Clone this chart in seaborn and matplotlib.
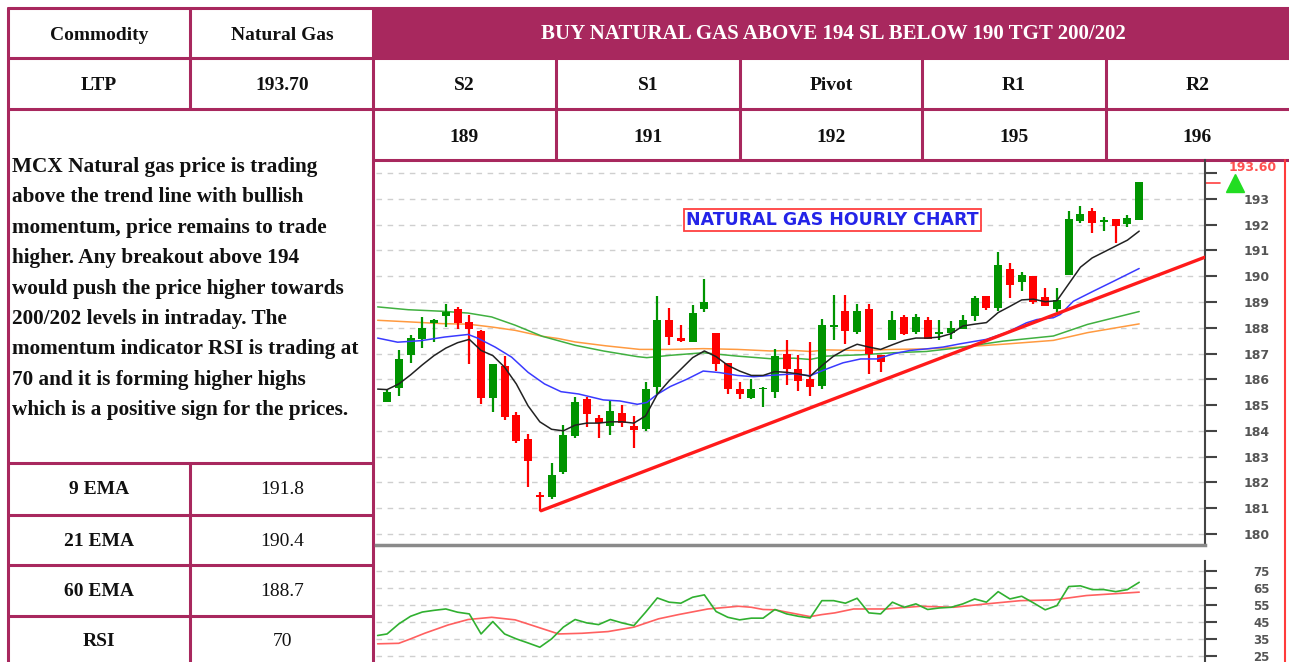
import matplotlib
matplotlib.use("Agg")
import matplotlib.pyplot as plt
import seaborn as sns

sns.set_style("white")
plt.rcParams["font.family"] = ["Liberation Serif", "DejaVu Serif"]

# ---------------- data ----------------
header_text = "BUY NATURAL GAS ABOVE 194 SL BELOW 190 TGT 200/202"
ltp = "193.70"
pivot_labels = ["S2", "S1", "Pivot", "R1", "R2"]
pivot_values = ["189", "191", "192", "195", "196"]
ind_labels = ["9 EMA", "21 EMA", "60 EMA", "RSI"]
ind_values = ["191.8", "190.4", "188.7", "70"]
comment_lines = [
    "MCX Natural gas price is trading",
    "above the trend line with bullish",
    "momentum, price remains to trade",
    "higher. Any breakout above 194",
    "would push the price higher towards",
    "200/202 levels in intraday. The",
    "momentum indicator RSI is trading at",
    "70 and it is forming higher highs",
    "which is a positive sign for the prices.",
]

# hourly candles (65 bars)
opens = [185.13, 185.65, 186.95, 187.55, 188.18, 188.44, 188.71, 188.22, 187.86, 185.26,
         186.53, 184.61, 183.70, 181.49, 181.44, 182.40, 183.81, 185.23, 184.49, 184.19,
         184.68, 184.19, 184.06, 185.72, 188.30, 187.59, 187.45, 188.74, 187.81, 186.62,
         185.61, 185.29, 185.61, 185.49, 186.99, 186.40, 186.01, 185.73, 188.03, 188.64,
         187.83, 188.74, 186.95, 187.53, 188.42, 187.83, 188.32, 187.77, 187.81, 187.97,
         188.44, 189.22, 188.75, 190.29, 189.77, 190.00, 189.18, 188.72, 190.03, 192.14,
         192.53, 192.09, 192.22, 192.01, 192.18]
highs = [185.60, 187.12, 187.70, 188.42, 188.35, 188.94, 188.81, 188.51, 187.90, 186.60,
         186.92, 184.74, 183.87, 181.62, 182.77, 184.22, 185.30, 185.32, 184.61, 185.16,
         184.99, 184.58, 185.90, 189.23, 188.77, 188.09, 188.90, 189.90, 187.81, 186.62,
         185.90, 186.00, 185.70, 187.18, 187.51, 186.95, 187.44, 188.35, 189.26, 189.26,
         188.94, 188.94, 186.95, 188.64, 188.48, 188.55, 188.42, 188.32, 188.25, 188.49,
         189.25, 189.22, 190.94, 190.51, 190.16, 190.00, 189.53, 189.53, 192.53, 192.74,
         192.66, 192.31, 192.22, 192.37, 193.65]
lows = [185.10, 185.34, 186.64, 187.21, 187.44, 188.03, 187.94, 186.60, 185.04, 184.74,
        184.42, 183.52, 181.83, 180.88, 181.34, 182.31, 183.74, 184.13, 183.74, 183.85,
        184.13, 183.35, 184.00, 185.42, 187.32, 187.45, 187.45, 188.61, 186.32, 185.42,
        185.25, 185.25, 184.94, 185.26, 185.78, 185.56, 185.34, 185.62, 187.53, 187.38,
        187.77, 186.21, 186.27, 187.53, 187.70, 187.77, 187.55, 187.53, 187.55, 187.94,
        188.27, 188.70, 188.66, 189.14, 189.44, 188.92, 188.83, 188.62, 190.03, 192.05,
        191.66, 191.75, 191.27, 191.92, 192.18]
closes = [185.52, 186.79, 187.60, 188.00, 188.32, 188.61, 188.18, 187.94, 185.26, 186.60,
          184.52, 183.61, 182.83, 181.44, 182.27, 183.83, 185.10, 184.65, 184.30, 184.77,
          184.32, 184.04, 185.61, 188.32, 187.65, 187.48, 188.58, 189.00, 186.61, 185.64,
          185.42, 185.61, 185.68, 186.90, 186.40, 185.95, 185.69, 188.12, 188.12, 187.86,
          188.64, 186.99, 186.66, 188.32, 187.77, 188.42, 187.57, 187.83, 187.99, 188.31,
          189.14, 188.75, 190.42, 189.66, 190.03, 189.01, 188.83, 189.09, 192.22, 192.40,
          192.05, 192.18, 191.96, 192.24, 193.65]

# moving averages (bar index, price)
ema9_x = [-0.8] + list(range(65))
ema9_y = [185.62, 185.60, 185.82, 186.17, 186.56, 186.92, 187.21, 187.42, 187.55, 187.12,
          186.92, 186.47, 185.82, 184.97, 184.35, 184.06, 184.00, 184.22, 184.30, 184.30,
          184.35, 184.35, 184.30, 184.58, 185.42, 185.94, 186.39, 186.84, 187.10, 186.88,
          186.54, 186.32, 186.15, 186.15, 186.30, 186.27, 186.21, 186.12, 186.53, 186.90,
          187.16, 187.36, 187.25, 187.16, 187.34, 187.51, 187.60, 187.60, 187.64, 187.77,
          188.07, 188.14, 188.20, 188.59, 188.83, 189.08, 189.11, 189.01, 189.05, 189.70,
          190.35, 190.71, 190.94, 191.17, 191.40, 191.75]
ema21_x = [-0.8, 0.9, 2.9, 4.9, 6.9, 7.7, 9.2, 10.6, 12.0, 13.4, 14.8, 16.3, 18.4, 19.8,
           21.3, 22.1, 23.0, 24.1, 25.5, 26.9, 28.3, 29.8, 31.2, 32.6, 34.6, 36.0, 37.4,
           38.8, 40.3, 41.7, 43.1, 44.5, 45.9, 47.3, 48.8, 51.0, 52.7, 54.4, 55.3, 56.7,
           57.3, 58.4, 60.1, 61.8, 64.0]
ema21_y = [187.60, 187.44, 187.50, 187.64, 187.74, 187.60, 187.25, 186.86, 186.27, 185.82,
           185.52, 185.43, 185.20, 185.16, 185.03, 185.10, 185.42, 185.72, 186.00, 186.32,
           186.26, 186.15, 186.10, 186.15, 186.21, 186.14, 186.40, 186.64, 186.79, 186.79,
           186.99, 187.12, 187.18, 187.25, 187.38, 187.55, 187.81, 188.19, 188.32, 188.39,
           188.52, 189.03, 189.42, 189.80, 190.30]
ema60_x = [-0.8, 1.8, 4.7, 6.9, 8.9, 10.9, 13.2, 16.0, 18.4, 21.3, 22.1, 24.1, 26.9, 29.8,
           32.6, 34.6, 36.0, 37.4, 40.3, 43.1, 45.9, 48.2, 52.4, 56.7, 59.6, 64.0]
ema60_y = [188.81, 188.70, 188.64, 188.57, 188.42, 188.10, 187.67, 187.32, 187.10, 186.88,
           186.84, 186.93, 187.03, 186.90, 186.80, 186.82, 186.77, 186.90, 186.95, 187.03,
           187.08, 187.20, 187.48, 187.68, 188.13, 188.63]
ema100_x = [-0.8, 1.8, 4.7, 6.9, 8.9, 10.9, 13.2, 14.6, 16.0, 18.6, 21.5, 24.1, 26.9, 29.8,
            32.6, 34.6, 36.0, 37.4, 40.3, 43.1, 45.9, 48.8, 52.4, 56.7, 59.6, 64.0]
ema100_y = [188.29, 188.23, 188.16, 188.14, 188.03, 187.90, 187.67, 187.58, 187.45, 187.30,
            187.16, 187.16, 187.19, 187.16, 187.10, 187.12, 187.08, 187.14, 187.12, 187.16,
            187.18, 187.25, 187.36, 187.51, 187.81, 188.15]
trend_x = [13.1, 69.6]
trend_y = [180.9, 190.74]
last_price = 193.60

# RSI pane
rsi_x = [-0.8] + list(range(65))
rsi_y = [37.2, 38.1, 44.0, 48.5, 51.0, 52.0, 52.8, 50.9, 49.9, 38.1, 45.4, 38.1, 35.2, 32.8,
         30.3, 35.2, 42.1, 46.6, 44.6, 43.6, 46.6, 44.6, 43.0, 50.9, 59.3, 56.8, 56.2, 59.7,
         61.1, 51.3, 47.9, 46.4, 47.4, 47.4, 52.5, 49.9, 48.5, 47.5, 57.7, 57.7, 56.2, 59.1,
         50.5, 49.9, 56.8, 53.8, 55.8, 52.5, 53.4, 53.8, 55.8, 58.7, 56.8, 63.0, 58.7, 60.3,
         56.4, 52.3, 54.8, 66.0, 66.4, 64.2, 64.2, 63.0, 64.2, 68.5]
sig_x = [-0.8, 1.0, 2.0, 3.2, 5.2, 6.9, 8.9, 10.9, 12.6, 14.6, 16.6, 18.8, 21.0, 23.1, 24.8,
         27.3, 29.9, 31.0, 32.0, 33.0, 36.0, 37.0, 38.1, 39.7, 42.5, 45.4, 48.2, 51.0, 53.9,
         56.7, 59.5, 64.0]
sig_y = [32.3, 32.6, 35.2, 38.5, 43.4, 46.6, 47.9, 46.4, 42.6, 38.1, 38.5, 39.5, 42.1, 47.0,
         49.5, 52.8, 54.4, 53.8, 52.5, 52.3, 48.3, 49.5, 50.5, 52.8, 52.8, 54.4, 53.8, 55.8,
         57.7, 58.1, 60.7, 62.7]

# ---------------- figure / table ----------------
W, H = 1289, 662
fig = plt.figure(figsize=(W / 100, H / 100), dpi=100)
bg = fig.add_axes([0, 0, 1, 1])
bg.set_xlim(0, W)
bg.set_ylim(H, 0)
bg.axis("off")

C = "#A8285E"
bg.add_patch(plt.Rectangle((373, 8), W - 373, 50, color=C, lw=0))


def hl(y, x0, x1):
    bg.plot([x0, x1], [y, y], color=C, lw=2.2)


def vl(x, y0, y1):
    bg.plot([x, x], [y0, y1], color=C, lw=2.2)


hl(8, 8, W); hl(58, 8, W); hl(109, 8, W); hl(160, 373, W)
for y in [463, 515, 565, 616]:
    hl(y, 8, 373)
vl(8, 8, H); vl(373, 8, H); vl(190, 8, 109); vl(190, 463, H)
col_edges = [373, 556, 740, 922, 1106, 1289]
for x in col_edges[1:-1]:
    vl(x, 58, 160)

cell = dict(ha="center", va="center", fontsize=14, fontweight="bold", color="#111111")
bg.text(99, 35, "Commodity", **cell)
bg.text(282, 35, "Natural Gas", **cell)
bg.text(99, 86, "LTP", **cell)
bg.text(282, 86, ltp, **cell)
bg.text(833, 34, header_text, ha="center", va="center", fontsize=15,
        fontweight="bold", color="white")
for i, (lab, val) in enumerate(zip(pivot_labels, pivot_values)):
    cx = (col_edges[i] + col_edges[i + 1]) / 2
    bg.text(cx, 86, lab, **cell)
    bg.text(cx, 137, val, **cell)
for i, line in enumerate(comment_lines):
    bg.text(12, 167 + i * 30.4, line, ha="left", va="center", fontsize=15.3,
            fontweight="bold", color="#111111")
row_c = [490, 541, 591, 641]
for yc, lab, val in zip(row_c, ind_labels, ind_values):
    bg.text(99, yc, lab, **cell)
    bg.text(282, yc, val, ha="center", va="center", fontsize=14, color="#111111")

# red border of the chart picture
bg.plot([1285, 1285], [160, H], color="#FF3B3B", lw=1.5)

# ---------------- price chart ----------------
x0, x1 = 376, 1205
ax = fig.add_axes([x0 / W, (H - 545) / H, (x1 - x0) / W, (545 - 160) / H])
ax.set_facecolor("none")
idx = list(range(len(opens)))
cols = ["#009400" if c >= o else "#FF0000" for o, c in zip(opens, closes)]
ax.vlines(idx, lows, highs, colors=cols, lw=1.6, zorder=3)
bottoms = [min(o, c) for o, c in zip(opens, closes)]
heights = [max(abs(c - o), 0.07) for o, c in zip(opens, closes)]
ax.bar(idx, heights, bottom=bottoms, width=0.68, color=cols, lw=0, zorder=4)

sns.lineplot(x=ema100_x, y=ema100_y, ax=ax, color="#FF9A40", lw=1.1, sort=False,
             estimator=None, zorder=2)
sns.lineplot(x=ema60_x, y=ema60_y, ax=ax, color="#40B040", lw=1.1, sort=False,
             estimator=None, zorder=2)
sns.lineplot(x=ema21_x, y=ema21_y, ax=ax, color="#3A3AFF", lw=1.1, sort=False,
             estimator=None, zorder=5)
sns.lineplot(x=ema9_x, y=ema9_y, ax=ax, color="#222222", lw=1.1, sort=False,
             estimator=None, zorder=5)
sns.lineplot(x=trend_x, y=trend_y, ax=ax, color="#FF1A1A", lw=2.4, sort=False,
             estimator=None, zorder=6)

ax.set_xlim(-0.94, 69.6)
ax.set_ylim(179.57, 194.51)
ax.set_xticks([])
yt = list(range(180, 195))
ax.set_yticks(yt)
ax.set_yticklabels([str(v) if v < 194 else "" for v in yt])
ax.yaxis.tick_right()
ax.tick_params(axis="y", direction="out", length=8.6, width=1.5, color="#444444",
               labelsize=9, labelcolor="#555555", pad=38)
plt.setp(ax.get_yticklabels(), ha="right", fontweight="bold", family="DejaVu Sans")
ax.grid(axis="y", color="#CFCFCF", linestyle=(0, (4, 4)), lw=1)
ax.grid(axis="x", visible=False)
for s in ["left", "top"]:
    ax.spines[s].set_visible(False)
ax.spines["right"].set_color("#444444")
ax.spines["right"].set_linewidth(1.5)
ax.spines["bottom"].set_color("#8A8A8A")
ax.spines["bottom"].set_linewidth(2.5)
ax.set_xlabel("")
ax.set_ylabel("")

ax.text(0.551, 0.844, "NATURAL GAS HOURLY CHART", transform=ax.transAxes, ha="center",
        va="center", fontsize=12.5, fontweight="bold", color="#2424E8", family="DejaVu Sans",
        bbox=dict(boxstyle="square,pad=0.12", fc="white", ec="#FF4040", lw=1.3))
ax.plot([1.0, 1.018], [last_price, last_price], color="#FF4040", lw=1.2,
        transform=ax.get_yaxis_transform(), clip_on=False)
ax.plot([1.036], [last_price], marker="^", ms=13, color="#22DD22", mec="#22DD22",
        transform=ax.get_yaxis_transform(), clip_on=False)
ax.text(1.058, 0.98, f"{last_price:.2f}", transform=ax.transAxes, ha="center",
        va="center", fontsize=9, fontweight="bold", color="#FF5050", family="DejaVu Sans")

# ---------------- RSI pane ----------------
rx = fig.add_axes([x0 / W, 0, (x1 - x0) / W, (H - 550) / H])
rx.set_facecolor("none")
sns.lineplot(x=sig_x, y=sig_y, ax=rx, color="#FF6060", lw=1.2, sort=False, estimator=None)
sns.lineplot(x=rsi_x, y=rsi_y, ax=rx, color="#30B030", lw=1.2, sort=False, estimator=None)
rx.set_xlim(-0.94, 69.6)
rx.set_ylim(21.6, 87.5)
rx.set_xticks([])
rt = [25, 35, 45, 55, 65, 75]
rx.set_yticks(rt)
rx.set_yticklabels([str(v) for v in rt])
rx.yaxis.tick_right()
rx.tick_params(axis="y", direction="out", length=8.6, width=1.5, color="#444444",
               labelsize=8.5, labelcolor="#555555", pad=38)
plt.setp(rx.get_yticklabels(), ha="right", fontweight="bold", family="DejaVu Sans")
rx.grid(axis="y", color="#CFCFCF", linestyle=(0, (4, 4)), lw=1)
rx.grid(axis="x", visible=False)
for s in ["left", "top", "bottom"]:
    rx.spines[s].set_visible(False)
rx.spines["right"].set_color("#444444")
rx.spines["right"].set_linewidth(1.5)
rx.spines["right"].set_bounds(21.6, 81)
rx.set_xlabel("")
rx.set_ylabel("")

fig.savefig("out.png", dpi=100)
